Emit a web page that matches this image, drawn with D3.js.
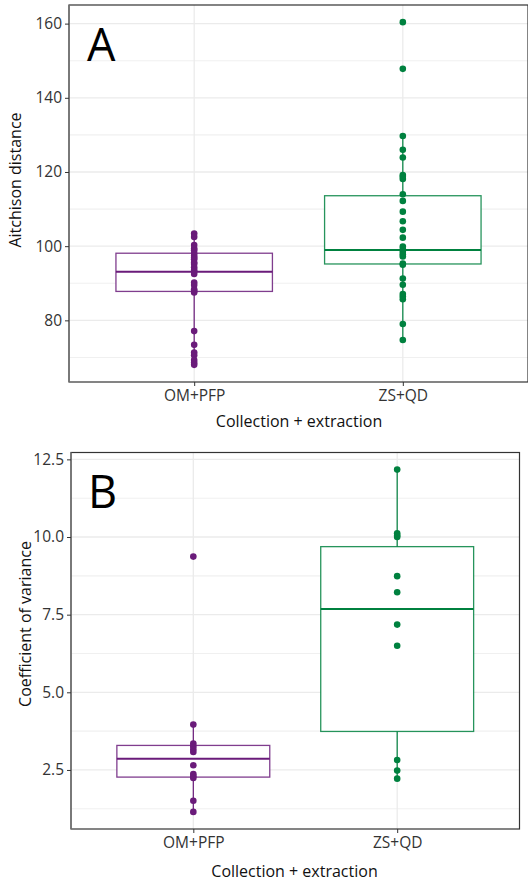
<!DOCTYPE html>
<html>
<head>
<meta charset="utf-8">
<script src="https://cdn.jsdelivr.net/npm/d3@7"></script>
<style>
  body { margin: 0; background: #fff; }
  svg text { font-family: "Open Sans", "Noto Sans", sans-serif; }
</style>
</head>
<body>
<svg id="chart" width="528" height="881"></svg>
<script>
// categories and colours
const categories = ["OM+PFP", "ZS+QD"];
const colors = ["#6a1b7a", "#00813f"];

// Panel A: Aitchison distance
const aitchisonOM = [103.4, 102.5, 100.3, 99.4, 98.9, 98.1, 97.4, 96.9, 96.5, 95.6, 95.2, 94.3, 93.6,
  93.1, 92.5, 90.2, 89.5, 88.4, 87.9, 87.5, 77.1, 73.4, 71.3, 70.6, 69.3, 68.6, 68.0];
const aitchisonZS = [160.4, 147.8, 129.7, 126.0, 123.9, 119.2, 118.7, 118.1, 114.0, 112.2, 109.3, 106.7,
  104.4, 102.3, 99.9, 99.2, 98.5, 97.8, 97.2, 95.3, 95.0, 91.3, 89.6, 87.1, 86.4, 85.7, 79.0, 74.7];
// box stats [whiskerLow, q1, median, q3, whiskerHigh]
const aitchisonBoxes = [[68.0, 87.8, 93.1, 98.1, 103.4], [74.7, 95.2, 99.0, 113.6, 129.7]];
const aitchisonTicks = [80, 100, 120, 140, 160];

// Panel B: coefficient of variance
const cvOM = [9.37, 3.96, 3.35, 3.26, 3.17, 3.08, 2.65, 2.37, 2.30, 2.24, 1.51, 1.15];
const cvZS = [12.17, 10.12, 10.05, 10.0, 8.74, 8.22, 7.18, 6.5, 2.82, 2.48, 2.22];
const cvBoxes = [[1.15, 2.27, 2.86, 3.29, 3.96], [2.22, 3.74, 7.68, 9.69, 12.17]];
const cvTicks = [2.5, 5.0, 7.5, 10.0, 12.5];

const svg = d3.select("#chart");

/**
 * Draws one boxplot panel with its points.
 */
function drawPanel(opt) {
    const g = svg.append("g");
    const all = opt.points.flat();
    const [lo, hi] = d3.extent(all);
    const pad = (hi - lo) * 0.05;

    const x = d3.scalePoint().domain(categories).range([opt.left, opt.right]).padding(0.6);
    const y = d3.scaleLinear().domain([lo - pad, hi + pad]).range([opt.bottom, opt.top]);
    const boxW = x.step() * 0.75;

    // minor grid at mid-points
    const step = opt.ticks[1] - opt.ticks[0];
    const minor = [opt.ticks[0] - step / 2].concat(opt.ticks.map(t => t + step / 2))
        .filter(v => v > y.domain()[0] && v < y.domain()[1]);
    g.selectAll(".minor").data(minor).enter().append("line")
        .attr("x1", opt.left).attr("x2", opt.right)
        .attr("y1", d => y(d)).attr("y2", d => y(d))
        .attr("stroke", "#f0f0f0").attr("stroke-width", 1.1);
    g.selectAll(".major").data(opt.ticks).enter().append("line")
        .attr("x1", opt.left).attr("x2", opt.right)
        .attr("y1", d => y(d)).attr("y2", d => y(d))
        .attr("stroke", "#ebebeb").attr("stroke-width", 1.3);
    g.selectAll(".vgrid").data(categories).enter().append("line")
        .attr("x1", d => x(d)).attr("x2", d => x(d))
        .attr("y1", opt.top).attr("y2", opt.bottom)
        .attr("stroke", "#ebebeb").attr("stroke-width", 1.3);

    // boxes
    opt.boxes.forEach((b, i) => {
        const cx = x(categories[i]);
        g.append("line")
            .attr("x1", cx).attr("x2", cx)
            .attr("y1", y(b[0])).attr("y2", y(b[4]))
            .attr("stroke", colors[i]).attr("stroke-width", 1.2);
        g.append("rect")
            .attr("x", cx - boxW / 2).attr("width", boxW)
            .attr("y", y(b[3])).attr("height", y(b[1]) - y(b[3]))
            .attr("fill", "#fff").attr("stroke", colors[i]).attr("stroke-opacity", 0.85)
            .attr("stroke-width", 1.3);
        g.append("line")
            .attr("x1", cx - boxW / 2).attr("x2", cx + boxW / 2)
            .attr("y1", y(b[2])).attr("y2", y(b[2]))
            .attr("stroke", colors[i]).attr("stroke-width", 2);
    });

    // points
    opt.points.forEach((pts, i) => {
        g.selectAll(".pt" + i).data(pts).enter().append("circle")
            .attr("cx", x(categories[i]))
            .attr("cy", d => y(d))
            .attr("r", 3.3)
            .attr("fill", colors[i]);
    });

    // frame
    g.append("rect")
        .attr("x", opt.left).attr("y", opt.top)
        .attr("width", opt.right - opt.left).attr("height", opt.bottom - opt.top)
        .attr("fill", "none").attr("stroke", "#333").attr("stroke-width", 1.2);
    g.append("line")
        .attr("x1", opt.left).attr("x2", opt.left)
        .attr("y1", opt.top).attr("y2", opt.bottom)
        .attr("stroke", "#777").attr("stroke-width", 1.6);

    // axes
    const yAxis = g.append("g")
        .attr("transform", `translate(${opt.left},0)`)
        .call(d3.axisLeft(y).tickValues(opt.ticks).tickSize(4).tickPadding(3)
            .tickFormat(opt.fmt));
    yAxis.select(".domain").remove();
    yAxis.selectAll("line").attr("stroke", "#333");
    yAxis.selectAll("text").attr("fill", "#333").style("font-size", "15.5px");

    const xAxis = g.append("g")
        .attr("transform", `translate(0,${opt.bottom})`)
        .call(d3.axisBottom(x).tickSize(4).tickPadding(4));
    xAxis.select(".domain").remove();
    xAxis.selectAll("line").attr("stroke", "#333");
    xAxis.selectAll("text").attr("fill", "#333").style("font-size", "15.5px");

    g.append("text")
        .attr("x", opt.xTitle[0]).attr("y", opt.xTitle[1])
        .attr("text-anchor", "middle").attr("dominant-baseline", "central")
        .style("font-size", "16px").attr("fill", "#111")
        .text("Collection + extraction");
    g.append("text")
        .attr("transform", `translate(${opt.yTitle[0]},${opt.yTitle[1]}) rotate(-90)`)
        .attr("text-anchor", "middle").attr("dominant-baseline", "central")
        .style("font-size", "16px").attr("fill", "#111")
        .text(opt.yLabel);

    g.append("text")
        .attr("x", opt.letter[0]).attr("y", opt.letter[1])
        .style("font-size", "45px").attr("fill", "#000")
        .text(opt.tag);
}

drawPanel({
    tag: "A", letter: [87, 61],
    left: 69, right: 528, top: 5, bottom: 382,
    points: [aitchisonOM, aitchisonZS], boxes: aitchisonBoxes,
    ticks: aitchisonTicks, fmt: d3.format("d"),
    yLabel: "Aitchison distance", yTitle: [15, 180], xTitle: [299, 421]
});

drawPanel({
    tag: "B", letter: [88, 508],
    left: 71, right: 519.5, top: 452.5, bottom: 829,
    points: [cvOM, cvZS], boxes: cvBoxes,
    ticks: cvTicks, fmt: d3.format(".1f"),
    yLabel: "Coefficient of variance", yTitle: [25, 624], xTitle: [294.5, 871]
});
</script>
</body>
</html>
